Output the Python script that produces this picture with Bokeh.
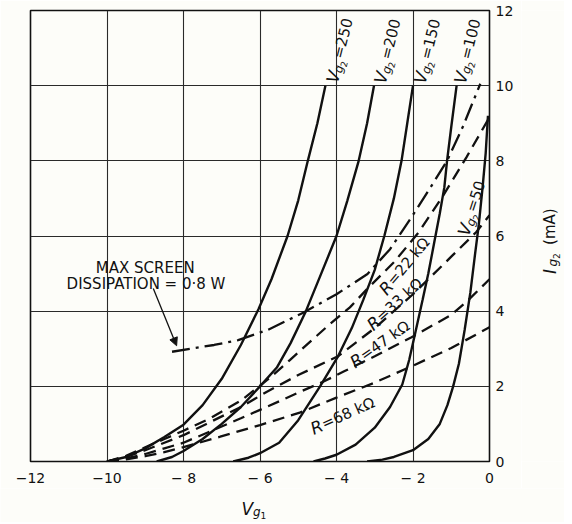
import math
from bokeh.plotting import figure
from bokeh.layouts import column, row
from bokeh.models import Range1d, FixedTicker, Label, Arrow, NormalHead
from bokeh.embed import file_html
from bokeh.resources import INLINE

BG = "#fdfdf9"
INK = "#111111"
FONT = "DejaVu Sans"

# ---- axes ----
x_ticks = [-12, -10, -8, -6, -4, -2, 0]
x_tick_labels = ["\u221212", "\u221210", "\u2212 8", "\u2212 6", "\u2212 4", "\u2212 2", "0"]
y_ticks = [0, 2, 4, 6, 8, 10, 12]
y_tick_labels = ["0", "2", "4", "6", "8", "10", "12"]

# ---- screen-grid characteristics (Vg1, Ig2 mA) ----
vg2_names = ["250", "200", "150", "100", "50"]
v250_x = [-10.0, -9.5, -9.0, -8.5, -8.0, -7.5, -7.0, -6.5, -6.04, -5.7, -5.28, -5.0, -4.75, -4.5, -4.29]
v250_y = [0.0, 0.12, 0.35, 0.65, 0.98, 1.5, 2.2, 3.1, 4.05, 4.85, 6.0, 6.95, 8.0, 9.0, 10.0]
v200_x = [-8.7, -8.3, -8.0, -7.5, -7.0, -6.5, -6.0, -5.56, -5.2, -4.8, -4.4, -4.0, -3.72, -3.42, -3.2, -3.02]
v200_y = [0.0, 0.12, 0.28, 0.6, 1.0, 1.45, 2.0, 2.5, 3.15, 4.0, 5.0, 6.0, 6.93, 8.0, 9.0, 10.0]
v150_x = [-6.7, -6.3, -6.0, -5.5, -5.0, -4.43, -3.96, -3.6, -3.3, -3.0, -2.75, -2.5, -2.3, -2.15, -2.0]
v150_y = [0.0, 0.1, 0.22, 0.5, 1.1, 2.0, 2.8, 3.55, 4.3, 5.1, 6.0, 7.0, 8.0, 9.0, 10.0]
v100_x = [-4.6, -4.3, -4.0, -3.5, -3.0, -2.6, -2.28, -2.1, -1.93, -1.75, -1.6, -1.45, -1.3, -1.18, -1.11, -1.0, -0.86]
v100_y = [0.0, 0.08, 0.18, 0.45, 0.9, 1.45, 2.05, 2.7, 3.47, 4.3, 5.0, 5.8, 6.6, 7.3, 8.0, 8.9, 10.0]
v50_x = [-3.2, -2.8, -2.5, -2.0, -1.6, -1.3, -1.1, -0.95, -0.8, -0.65, -0.5, -0.38, -0.28, -0.18, -0.1, -0.04]
v50_y = [0.0, 0.05, 0.12, 0.3, 0.6, 1.0, 1.5, 2.0, 2.6, 3.5, 4.5, 5.5, 6.3, 7.3, 8.2, 9.2]

# ---- screen resistor load lines ----
r_names = ["22", "33", "47", "68"]
r22_x = [-10.0, -9.5, -9.0, -8.5, -8.0, -7.3, -6.5, -5.75, -5.22, -4.17, -3.65, -3.19, -2.5, -1.85, -1.24, -0.6, 0.0]
r22_y = [0.0, 0.15, 0.38, 0.6, 0.82, 1.15, 1.62, 2.22, 2.7, 3.66, 4.1, 4.6, 5.3, 6.1, 7.03, 8.1, 9.16]
r33_x = [-10.0, -9.5, -9.0, -8.5, -8.0, -7.4, -6.5, -5.83, -5.0, -3.96, -3.0, -2.0, -1.0, -0.35, 0.0]
r33_y = [0.0, 0.12, 0.3, 0.5, 0.7, 1.0, 1.45, 1.85, 2.3, 2.8, 3.55, 4.45, 5.45, 6.1, 6.55]
r47_x = [-10.0, -9.5, -9.0, -8.5, -8.0, -7.3, -6.5, -5.5, -4.96, -4.35, -3.8, -3.0, -2.05, -1.0, -0.55, 0.0]
r47_y = [0.0, 0.08, 0.2, 0.35, 0.5, 0.8, 1.15, 1.6, 1.85, 2.12, 2.4, 2.8, 3.3, 3.9, 4.3, 4.85]
r68_x = [-10.0, -9.5, -9.0, -8.5, -8.0, -7.04, -6.0, -4.96, -4.0, -3.0, -2.0, -1.0, 0.0]
r68_y = [0.0, 0.06, 0.14, 0.25, 0.38, 0.66, 0.97, 1.3, 1.7, 2.1, 2.55, 3.02, 3.57]

# ---- max screen dissipation 0.8 W ----
diss_x = [-8.3, -7.83, -7.2, -6.57, -5.8, -4.87, -4.0, -3.19, -2.6, -2.07, -1.6, -1.11, -0.7, -0.24]
diss_y = [2.92, 3.0, 3.1, 3.23, 3.5, 3.96, 4.45, 4.99, 5.65, 6.45, 7.2, 8.0, 8.9, 10.05]

MAIN_W, MAIN_H = 521, 488
p = figure(width=MAIN_W, height=MAIN_H, x_range=Range1d(-12, 0), y_range=Range1d(0, 12),
           output_backend="svg", toolbar_location=None, y_axis_location="right",
           min_border_left=30, min_border_right=32, min_border_top=10, min_border_bottom=26,
           background_fill_color=BG, border_fill_color=BG)

p.outline_line_color = INK
p.outline_line_width = 1.6
p.xgrid.ticker = FixedTicker(ticks=x_ticks)
p.ygrid.ticker = FixedTicker(ticks=y_ticks)
p.grid.grid_line_color = "#2a2a2a"
p.grid.grid_line_width = 1.1

p.xaxis.ticker = FixedTicker(ticks=x_ticks)
p.yaxis.ticker = FixedTicker(ticks=y_ticks)
p.xaxis.major_label_overrides = {t: s for t, s in zip(x_ticks, x_tick_labels)}
p.yaxis.major_label_overrides = {t: s for t, s in zip(y_ticks, y_tick_labels)}
for ax in (p.xaxis, p.yaxis):
    ax.axis_line_color = None
    ax.major_tick_line_color = None
    ax.minor_tick_line_color = None
    ax.major_tick_out = 0
    ax.major_tick_in = 0
    ax.major_label_text_font = FONT
    ax.major_label_text_font_size = "14px"
    ax.major_label_text_color = INK
p.xaxis.major_label_standoff = 8
p.yaxis.major_label_standoff = 6

for xs, ys in [(v250_x, v250_y), (v200_x, v200_y), (v150_x, v150_y), (v100_x, v100_y), (v50_x, v50_y)]:
    p.line(xs, ys, line_color=INK, line_width=2.4)

for xs, ys in [(r22_x, r22_y), (r33_x, r33_y), (r47_x, r47_y), (r68_x, r68_y)]:
    p.line(xs, ys, line_color=INK, line_width=2.3, line_dash="12 7")

p.line(diss_x, diss_y, line_color=INK, line_width=2.3, line_dash="18 6 3 6")


def compose(fig, x, y, angle_deg, parts):
    a = math.radians(angle_deg)
    ca, sa = math.cos(a), math.sin(a)
    s = 0.0
    for txt, size, style, shift, adv in parts:
        fig.add_layout(Label(x=x, y=y, x_offset=s * ca + shift * sa, y_offset=s * sa - shift * ca,
                             text=txt, angle=a, text_font=FONT, text_font_size=f"{size}px",
                             text_font_style=style, text_color=INK,
                             text_baseline="alphabetic", text_align="left"))
        s += adv


def vg2_parts(val):
    return [("V", 17, "italic", 0, 11.0), ("g", 12, "italic", 3.5, 7.0),
            ("2", 9, "normal", 7.0, 7.0), ("=" + val, 15, "normal", 0, 0)]


vg2_pos = [(-4.12, 10.08, 76), (-2.87, 10.06, 76), (-1.83, 10.06, 76), (-0.78, 10.06, 76), (-0.69, 6.02, 72)]
for name, (lx, ly, ang) in zip(vg2_names, vg2_pos):
    compose(p, lx, ly, ang, vg2_parts(name))

r_pos = [(-2.8, 4.5, 50), (-3.14, 3.58, 42), (-3.6, 2.6, 35), (-4.66, 0.85, 24)]
for name, (lx, ly, ang) in zip(r_names, r_pos):
    compose(p, lx, ly, ang, [("R", 17, "italic", 0, 12.0), ("=" + name + " k\u03a9", 15, "normal", 0, 0)])

# dissipation note
p.add_layout(Label(x=-9.0, y=5.16, text="MAX SCREEN", text_font=FONT, text_font_size="15px",
                   text_color=INK, text_align="center", text_baseline="alphabetic"))
p.add_layout(Label(x=-8.98, y=4.71, text="DISSIPATION = 0\u00b78 W", text_font=FONT, text_font_size="15px",
                   text_color=INK, text_align="center", text_baseline="alphabetic"))
p.add_layout(Arrow(end=NormalHead(size=8, fill_color=INK, line_color=INK, line_width=1),
                   x_start=-8.79, y_start=4.6, x_end=-8.18, y_end=3.08,
                   line_color=INK, line_width=1.3))

# ---- axis titles in side strips (pixel-unit frames) ----
RIGHT_W = 43
fr = figure(width=RIGHT_W, height=MAIN_H, x_range=Range1d(0, RIGHT_W), y_range=Range1d(0, MAIN_H),
            output_backend="svg", toolbar_location=None, x_axis_type=None, y_axis_type=None,
            min_border=0, background_fill_color=BG, border_fill_color=BG)
fr.outline_line_color = None
compose(fr, 28, MAIN_H - 285, 90, [("I", 17, "italic", 0, 7.5), ("g", 12, "italic", 3.5, 7.5),
                                   ("2", 9, "normal", 6.5, 14), ("(mA)", 15, "normal", 0, 0)])

BOT_H = 34
fb = figure(width=MAIN_W + RIGHT_W, height=BOT_H, x_range=Range1d(0, MAIN_W + RIGHT_W), y_range=Range1d(0, BOT_H),
            output_backend="svg", toolbar_location=None, x_axis_type=None, y_axis_type=None,
            min_border=0, background_fill_color=BG, border_fill_color=BG)
fb.outline_line_color = None
compose(fb, 241, 14, 0, [("V", 17, "italic", 0, 11.5), ("g", 12, "italic", 3.5, 7.5), ("1", 9, "normal", 6.5, 0)])

layout = column(row(p, fr), fb)
open("out.html", "w").write(file_html(layout, INLINE))
